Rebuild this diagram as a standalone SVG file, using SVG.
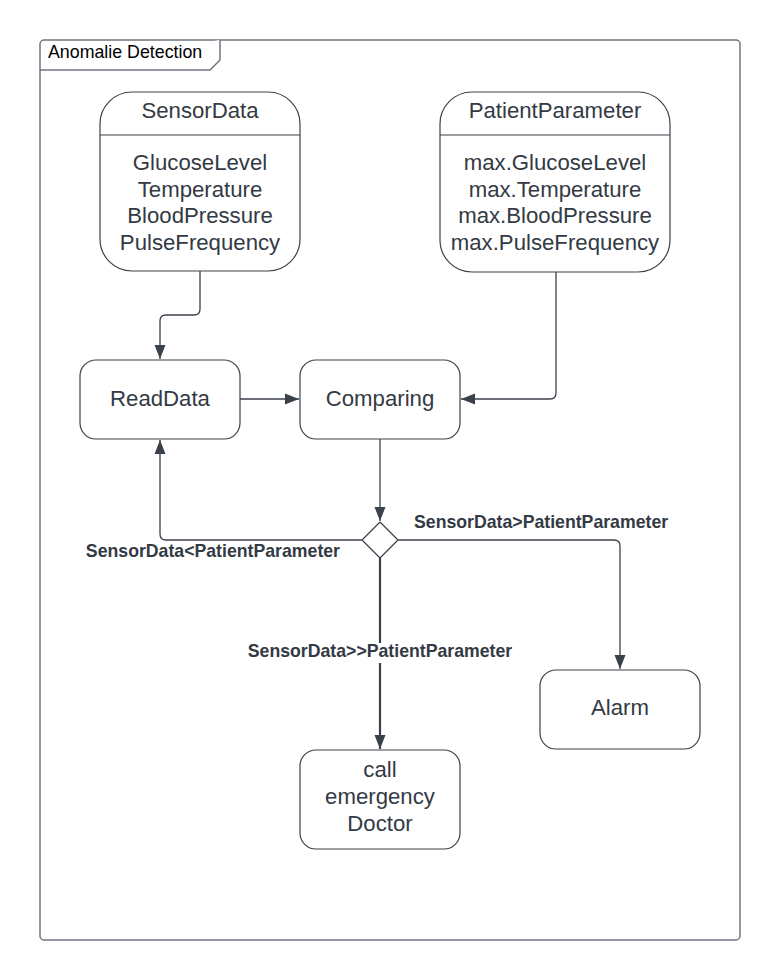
<svg xmlns="http://www.w3.org/2000/svg" width="780" height="980" viewBox="0 0 780 980">
<defs>
<style>
.frame{fill:#ffffff;stroke:#707480;stroke-width:1.5}
.node{fill:#ffffff;stroke:#3a414a;stroke-width:1.2}
.t{font-family:"Liberation Sans",Arial,sans-serif;font-size:22.2px;fill:#333a44;text-anchor:middle}
.lbl{font-family:"Liberation Sans",Arial,sans-serif;font-size:17.7px;font-weight:bold;fill:#333a44}
.title{font-family:"Liberation Sans",Arial,sans-serif;font-size:17.8px;fill:#000000}
.edge{fill:none;stroke:#3a414a;stroke-width:1.3}
</style>
<marker id="arr" viewBox="0 0 14 12" refX="14" refY="6" markerWidth="14" markerHeight="12" markerUnits="userSpaceOnUse" orient="auto">
<path d="M0,0.5 L14,6 L0,11.5 Z" fill="#3a414a"/>
</marker>
</defs>
<rect width="780" height="980" fill="#ffffff"/>
<g id="frame">
<rect class="frame" x="40" y="40" width="700" height="900" rx="4"/>
<path class="frame" d="M40,70 L210,70 L220,60 L220,40" fill="none"/>
<text class="title" x="48" y="58">Anomalie Detection</text>
</g>
<g id="connectors">
<path class="edge" d="M200,271 L200,309 Q200,315 194,315 L166,315 Q160,315 160,321 L160,359" marker-end="url(#arr)"/>
<path class="edge" d="M240,399 L299,399" marker-end="url(#arr)"/>
<path class="edge" d="M556,272 L556,393 Q556,399 550,399 L461,399" marker-end="url(#arr)"/>
<path class="edge" d="M380,439 L380,521" marker-end="url(#arr)"/>
<path class="edge" d="M362,540 L166,540 Q160,540 160,534 L160,440" marker-end="url(#arr)"/>
<path class="edge" d="M398,540 L614,540 Q620,540 620,546 L620,669" marker-end="url(#arr)"/>
<path class="edge" d="M380,558 L380,749" style="stroke-width:2.2" marker-end="url(#arr)"/>
<rect x="246" y="643" width="270" height="20" fill="#ffffff"/>
<text class="lbl" x="340" y="557" text-anchor="end">SensorData&lt;PatientParameter</text>
<text class="lbl" x="414" y="528">SensorData&gt;PatientParameter</text>
<text class="lbl" x="380" y="657" text-anchor="middle">SensorData&gt;&gt;PatientParameter</text>
</g>
<g id="SensorData">
<rect class="node" x="100" y="92" width="200" height="179" rx="32"/>
<line class="node" x1="100" y1="135" x2="300" y2="135"/>
<text class="t" x="200" y="118">SensorData</text>
<text class="t" x="200" y="170">GlucoseLevel</text>
<text class="t" x="200" y="197">Temperature</text>
<text class="t" x="200" y="223">BloodPressure</text>
<text class="t" x="200" y="250">PulseFrequency</text>
</g>
<g id="PatientParameter">
<rect class="node" x="440" y="92" width="230" height="180" rx="32"/>
<line class="node" x1="440" y1="135" x2="670" y2="135"/>
<text class="t" x="555" y="118">PatientParameter</text>
<text class="t" x="555" y="170">max.GlucoseLevel</text>
<text class="t" x="555" y="197">max.Temperature</text>
<text class="t" x="555" y="223">max.BloodPressure</text>
<text class="t" x="555" y="250">max.PulseFrequency</text>
</g>
<g id="ReadData">
<rect class="node" x="80" y="360" width="160" height="79" rx="16"/>
<text class="t" x="160" y="406">ReadData</text>
</g>
<g id="Comparing">
<rect class="node" x="300" y="360" width="160" height="79" rx="16"/>
<text class="t" x="380" y="406">Comparing</text>
</g>
<g id="Decision">
<path class="node" d="M380,522 L397,539 Q398,540 397,541 L381,557 Q380,558 379,557 L363,541 Q362,540 363,539 L379,523 Q380,522 381,523 Z"/>
</g>
<g id="Alarm">
<rect class="node" x="540" y="670" width="160" height="79" rx="16"/>
<text class="t" x="620" y="715">Alarm</text>
</g>
<g id="CallDoctor">
<rect class="node" x="300" y="750" width="160" height="99" rx="16"/>
<text class="t" x="380" y="777">call</text>
<text class="t" x="380" y="804">emergency</text>
<text class="t" x="380" y="831">Doctor</text>
</g>
</svg>
